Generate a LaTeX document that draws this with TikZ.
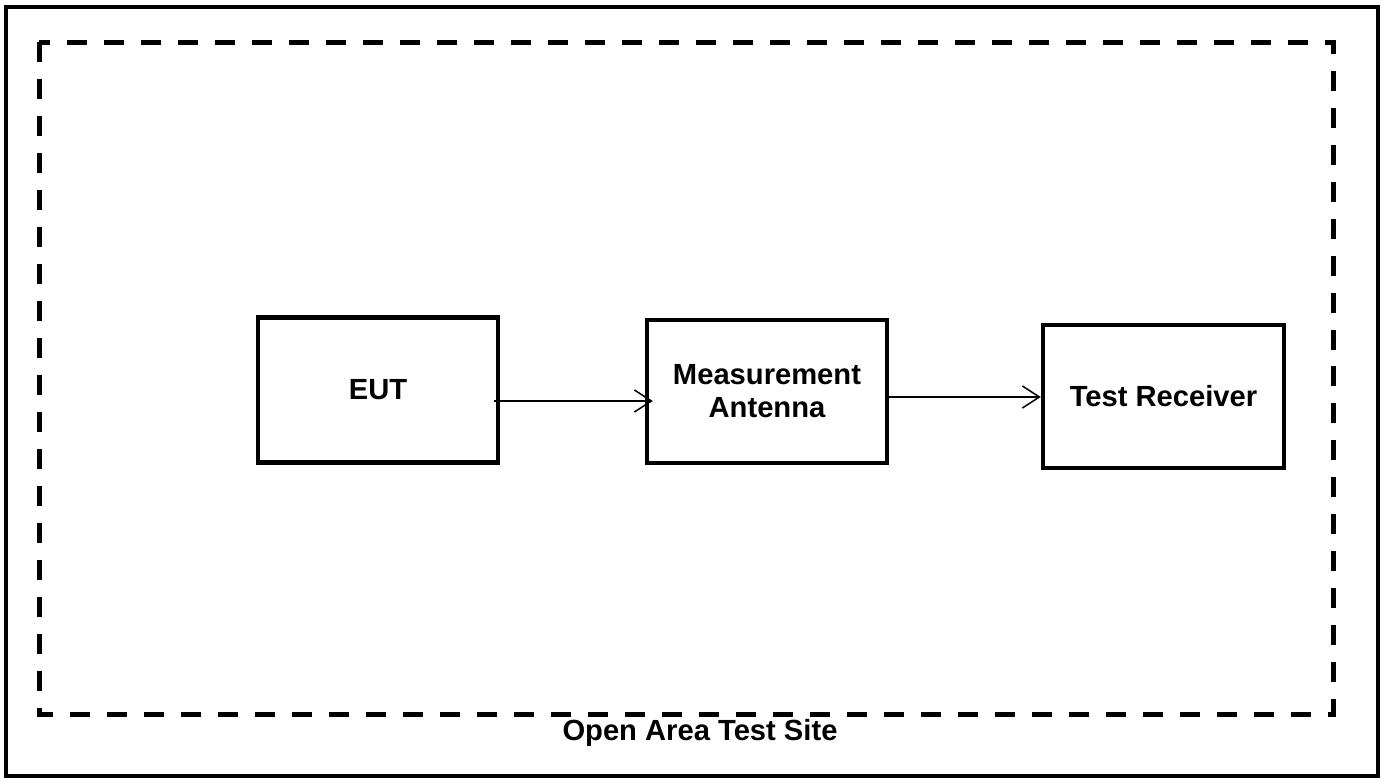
\documentclass[tikz,border=0pt]{standalone}
\usepackage{fontspec}
\setmainfont{Liberation Sans}
\usetikzlibrary{arrows.meta}

\tikzset{
	unitbox/.style={draw,line width=0.09cm,inner sep=0pt,align=center,font=\fontsize{16.6}{18.8}\selectfont\bfseries},
	link/.style={line width=0.03cm,-{Straight Barb[length=0.34cm,width=0.44cm,line width=0.03cm]}},
}

\begin{document}
\begin{tikzpicture}[x=0.02cm,y=-0.02cm]
			\useasboundingbox (0,0) rectangle (1386,781);
			\draw[line width=0.09cm] (6,7) rectangle (1378,776);
			\draw[line width=0.1cm,dash pattern=on 0.4cm off 0.34cm] (39,42) rectangle (1333,714);
			\node[unitbox,minimum width=4.8cm,minimum height=2.9cm] (eut) at (378,390) {EUT};
			\node[unitbox,minimum width=4.8cm,minimum height=2.86cm] (ant) at (767,391.5) {Measurement\\Antenna};
			\node[unitbox,minimum width=4.82cm,minimum height=2.86cm] (rec) at (1163.5,396.5) {Test Receiver};
			\node[font=\fontsize{16.6}{18.8}\selectfont\bfseries] (site) at (700,733) {Open Area Test Site};
			\coordinate (a1) at ([shift={(-0.12cm,-0.22cm)}]eut.east);
			\coordinate (a2) at ([shift={(-0.08cm,-0.11cm)}]ant.east);
			\draw[link,shorten >=-0.16cm] (a1) -- (ant.west |- a1);
			\draw[link] (a2) -- (rec.west |- a2);
		\end{tikzpicture}
\end{document}
